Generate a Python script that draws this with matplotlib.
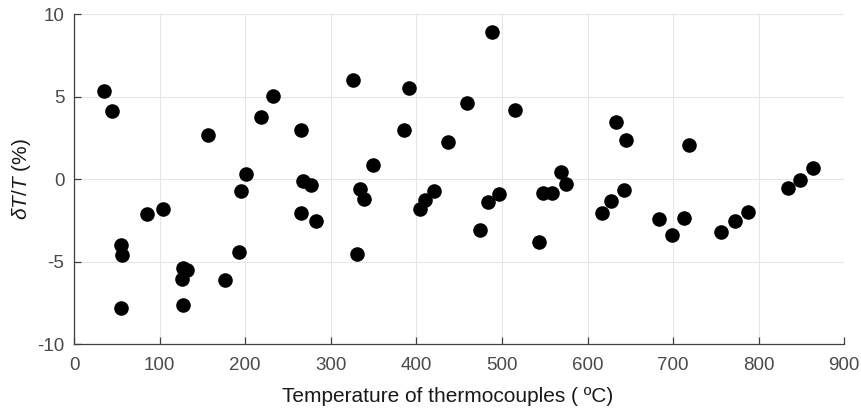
import matplotlib
matplotlib.use("Agg")
import matplotlib.pyplot as plt

plt.rcParams['font.family'] = ['Liberation Sans', 'DejaVu Sans']
plt.rcParams['mathtext.fontset'] = 'custom'
plt.rcParams['mathtext.it'] = 'Liberation Sans:italic'
plt.rcParams['mathtext.rm'] = 'Liberation Sans'

temperature = [35.5, 44, 54.5, 56.5, 54.5, 85, 104, 127, 126, 127, 132, 156, 177,
               192.5, 195, 200.6, 219, 232.6,
               265.3, 268, 276.6, 265.7, 282.8, 326.5, 334.3, 339.3, 331, 349,
               386, 391.2, 404.8, 410.6, 421, 437.5, 459.7, 474.9, 483.9, 488.5,
               496, 515.4, 543.5, 548.2, 558.3, 569.5, 575.4,
               617.1, 627.6, 633.5, 642.4, 645.2, 683.3, 699, 713, 718,
               756.2, 771.8, 787, 834.1, 848.5, 862.9]
deviation = [5.34, 4.16, -3.98, -4.59, -7.83, -2.1, -1.79, -7.6, -6.05, -5.38, -5.5, 2.7, -6.1,
             -4.39, -0.68, 0.32, 3.76, 5.03,
             2.97, -0.13, -0.33, -2.06, -2.52, 6.03, -0.6, -1.19, -4.55, 0.86,
             2.97, 5.52, -1.79, -1.23, -0.68, 2.26, 4.61, -3.07, -1.35, 8.95,
             -0.9, 4.22, -3.8, -0.8, -0.84, 0.44, -0.27,
             -2.06, -1.29, 3.48, -0.66, 2.36, -2.4, -3.37, -2.36, 2.06,
             -3.21, -2.5, -1.96, -0.5, -0.05, 0.68]

xticks = [0, 100, 200, 300, 400, 500, 600, 700, 800, 900]
yticks = [-10, -5, 0, 5, 10]

fig = plt.figure(figsize=(8.61, 4.08), dpi=100)
ax = fig.add_axes([74/861, 1 - 344.3/408, (844.3 - 74)/861, (344.3 - 14.3)/408])

ax.scatter(temperature, deviation, s=110, color='black', zorder=3, linewidths=0)

ax.set_xlim(0, 900)
ax.set_ylim(-10, 10)
ax.set_xticks(xticks)
ax.set_yticks(yticks)
ax.set_xticklabels([str(v) for v in xticks])
ax.set_yticklabels([str(v) for v in yticks])

ax.grid(True, color='#e6e6e6', linewidth=0.8, zorder=0)
ax.set_axisbelow(True)
for side in ['top', 'right']:
    ax.spines[side].set_visible(False)
for side in ['left', 'bottom']:
    ax.spines[side].set_color('#404040')
    ax.spines[side].set_linewidth(0.9)

ax.tick_params(direction='in', length=5, width=0.9, color='#404040',
               labelcolor='#4a4a4a', labelsize=13.5)
ax.tick_params(axis='x', pad=9.5)
ax.tick_params(axis='y', pad=7)

ax.set_xlabel('Temperature of thermocouples ( ºC)', fontsize=15, color='#1a1a1a')
ax.xaxis.set_label_coords(0.4855, -0.128)
ax.set_ylabel(r'$\delta T/T$ (%)', fontsize=15, color='#1a1a1a', labelpad=3)

fig.savefig('out.png', dpi=100)
